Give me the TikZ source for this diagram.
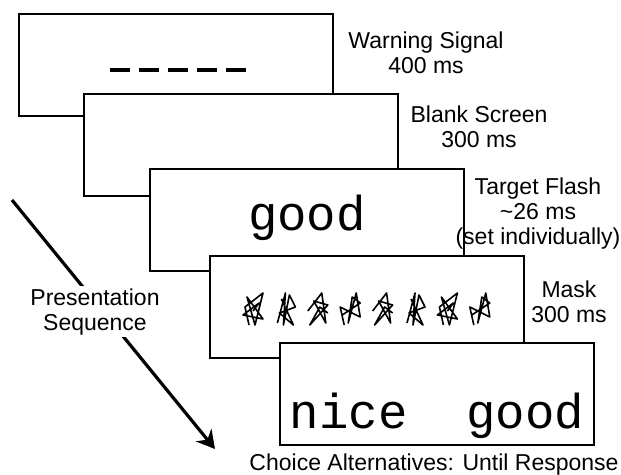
\documentclass[tikz,border=0pt]{standalone}
\usepackage{fontspec}
\setmainfont{Liberation Sans}
\setmonofont{Liberation Mono}
\usetikzlibrary{arrows.meta}

\tikzset{
    screen/.style={draw, line width=2pt, fill=white, anchor=north west, minimum width=314pt, minimum height=102pt, inner sep=0pt},
    word/.style={font=\fontsize{49}{49}\ttfamily, anchor=base, inner sep=0pt},
    timing/.style={font=\fontsize{23}{25}\selectfont, align=center, anchor=base, inner sep=0pt},
    dashbar/.style={line width=3.5pt},
    maskline/.style={line width=1.6pt, line join=round},
    seqarrow/.style={line width=3.2pt, -{Stealth[length=18pt, width=20pt, inset=6pt]}}
}

% scribbles for the mask, drawn in a 20 x 32 cell
\def\scribA{(6,32) -- (2,14) -- (20,0) -- (12,32) -- (4,4) -- (20,26) -- (0,22) -- (16,10) -- (10,18)}
\def\scribB{(2,30) -- (10,0) -- (8,32) -- (14,2) -- (20,14) -- (4,20) -- (18,32) -- (6,6)}
\def\scribC{(0,18) -- (14,0) -- (18,30) -- (6,8) -- (20,12) -- (2,32) -- (12,14) -- (20,20)}
\def\scribD{(4,32) -- (0,14) -- (20,24) -- (16,0) -- (8,30) -- (12,4) -- (20,10) -- (2,22)}

\begin{document}
\begin{tikzpicture}[x=1pt, y=-1pt]
    \useasboundingbox (0,0) rectangle (621,474);

    % the five screens
    \node[screen] (warn) at (17.5,12.5) {};
    \foreach \k in {0,...,4}
        \draw[dashbar] (110+\k*29,70) -- ++(20,0);
    \node[screen] (blank) at (83,93) {};
    \node[screen] (target) at (149,168) {};
    \node[word] (targetword) at (target.center |- 0,230) {good};
    \node[screen] (mask) at (209,255) {};
    \foreach \k/\g in {0/\scribA, 1/\scribB, 2/\scribC, 3/\scribD, 4/\scribC, 5/\scribB, 6/\scribA, 7/\scribD}
        \draw[maskline, shift={(243+\k*32.4,293)}] \g;
    \node[screen] (choice) at (279,342) {};
    \node[word] (choiceword) at (choice.center |- 0,428) {nice\ \ good};

    % labels, placed at the baseline of their last line
    \node[timing] (warnlabel) at (426,73) {Warning Signal\\400 ms};
    \node[timing] (blanklabel) at (479,147) {Blank Screen\\300 ms};
    \node[timing] (targetlabel) at (538,244) {Target Flash\\\textasciitilde26 ms\\(set individually)};
    \node[timing] (masklabel) at (569,322) {Mask\\300 ms};
    \node[timing] (choicelabel) at (434,470) {Choice Alternatives: Until Response};

    % sequence arrow
    \coordinate (seqtop) at (12,200);
    \coordinate (seqtip) at (215,449);
    \draw[seqarrow] (seqtop) -- (seqtip);
    \node[timing, fill=white, inner sep=2pt] (seqlabel) at (95,330) {Presentation\\Sequence};
\end{tikzpicture}
\end{document}
